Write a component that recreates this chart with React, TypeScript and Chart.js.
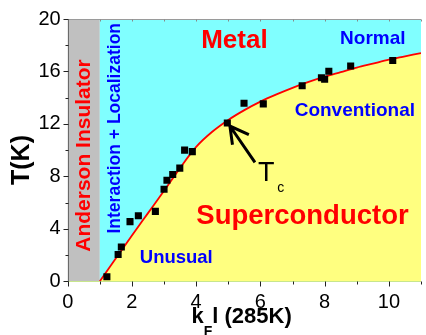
import { useEffect, useRef } from "react";
import { Chart, registerables } from "chart.js";

Chart.register(...registerables);

// measured points (kF l at 285K, Tc in K)
const pointKfl = [1.22, 1.57, 1.67, 1.94, 2.2, 2.73, 3.0, 3.09, 3.27, 3.49, 3.64, 3.88, 4.97, 5.49, 6.09, 7.3, 7.9, 8.0, 8.13, 8.81, 10.12];
const pointTc = [0.35, 2.04, 2.61, 4.55, 5.0, 5.33, 7.02, 7.7, 8.15, 8.63, 10.0, 9.89, 12.07, 13.58, 13.53, 14.91, 15.52, 15.4, 16.02, 16.42, 16.83];

// fitted phase boundary
const fitKfl = [1, 1.5, 2, 2.5, 3, 3.5, 4, 4.5, 5, 5.5, 6, 6.5, 7, 7.5, 8, 8.5, 9, 9.5, 10, 10.5, 11];
const fitTc = [0, 1.75, 3.5, 5.2, 6.9, 8.65, 10.25, 11.4, 12.3, 13.05, 13.7, 14.25, 14.75, 15.2, 15.6, 15.95, 16.3, 16.6, 16.9, 17.15, 17.4];

const xTickValues = [0, 2, 4, 6, 8, 10];
const xMinorTicks = [1, 3, 5, 7, 9, 11];
const yTickValues = [0, 4, 8, 12, 16, 20];
const yMinorTicks = [2, 6, 10, 14, 18];
const topTicks = [1, 2, 3, 4, 5, 6, 7, 8, 9, 10, 11];

const insulatorEdge = 1;

const FONT = 'Arial, "Liberation Sans", sans-serif';

export default function App() {
  const ref = useRef<HTMLCanvasElement>(null);

  useEffect(() => {
    document.body.style.margin = "0";
    const canvas = ref.current;
    if (!canvas) return;

    const bgPlugin = {
      id: "bgRegions",
      beforeDraw(chart: any) {
        const { ctx, chartArea: a, scales } = chart;
        const x1 = scales.x.getPixelForValue(insulatorEdge);
        ctx.save();
        ctx.fillStyle = "#c0c0c0";
        ctx.fillRect(a.left, a.top, x1 - a.left, a.bottom - a.top);
        ctx.fillStyle = "#80ffff";
        ctx.fillRect(x1, a.top, a.right - x1, a.bottom - a.top);
        ctx.restore();
      },
    };

    const overlayPlugin = {
      id: "overlay",
      afterDraw(chart: any) {
        const { ctx, chartArea: a, scales } = chart;
        const px = (v: number) => scales.x.getPixelForValue(v);
        const py = (v: number) => scales.y.getPixelForValue(v);
        ctx.save();

        // axis frame
        const L = Math.round(a.left) + 0.5;
        const T = Math.round(a.top) + 0.5;
        const B = Math.round(a.bottom) + 0.5;
        ctx.lineWidth = 1;
        ctx.strokeStyle = "#c8e68c";
        ctx.beginPath();
        ctx.moveTo(L, B);
        ctx.lineTo(a.right, B);
        ctx.stroke();
        ctx.strokeStyle = "#9a9a9a";
        ctx.beginPath();
        ctx.moveTo(L, T);
        ctx.lineTo(a.right, T);
        ctx.stroke();
        ctx.strokeStyle = "#6a6a6a";
        ctx.beginPath();
        ctx.moveTo(L, T);
        ctx.lineTo(L, B);
        ctx.stroke();

        // ticks
        ctx.strokeStyle = "#222";
        ctx.beginPath();
        yTickValues.forEach((v) => {
          const y = Math.round(py(v)) + 0.5;
          ctx.moveTo(L - 5, y);
          ctx.lineTo(L, y);
        });
        yMinorTicks.forEach((v) => {
          const y = Math.round(py(v)) + 0.5;
          ctx.moveTo(L - 3, y);
          ctx.lineTo(L, y);
        });
        xTickValues.forEach((v) => {
          const x = Math.round(px(v)) + 0.5;
          ctx.moveTo(x, B);
          ctx.lineTo(x, B + 5);
        });
        xMinorTicks.forEach((v) => {
          const x = Math.round(px(v)) + 0.5;
          ctx.moveTo(x, B);
          ctx.lineTo(x, B + 3);
        });
        ctx.stroke();
        ctx.strokeStyle = "#888";
        ctx.beginPath();
        topTicks.forEach((v) => {
          const x = Math.round(px(v)) + 0.5;
          ctx.moveTo(x, T);
          ctx.lineTo(x, T + 2);
        });
        ctx.stroke();

        // region labels
        const label = (text: string, x: number, y: number, size: number, color: string, bold = true) => {
          ctx.font = `${bold ? "bold " : ""}${size}px ${FONT}`;
          ctx.fillStyle = color;
          ctx.textAlign = "center";
          ctx.textBaseline = "alphabetic";
          ctx.fillText(text, px(x), py(y));
        };
        const vlabel = (text: string, x: number, y: number, size: number, color: string) => {
          ctx.save();
          ctx.translate(px(x), py(y));
          ctx.rotate(-Math.PI / 2);
          ctx.font = `bold ${size}px ${FONT}`;
          ctx.fillStyle = color;
          ctx.textAlign = "center";
          ctx.textBaseline = "alphabetic";
          ctx.fillText(text, 0, 0);
          ctx.restore();
        };

        vlabel("Anderson Insulator", 0.684, 9.59, 21, "#ff0000");
        vlabel("Interaction + Localization", 1.635, 11.67, 17.5, "#0000ff");
        label("Metal", 5.19, 17.78, 26, "#ff0000");
        label("Normal", 9.5, 18.1, 19, "#0000ff");
        label("Conventional", 8.94, 12.59, 19, "#0000ff");
        label("Superconductor", 7.31, 4.36, 27.5, "#ff0000");
        label("Unusual", 3.38, 1.4, 18.5, "#0000ff");
        label("T", 6.18, 7.62, 27, "#000", false);
        label("c", 6.63, 6.79, 14, "#000", false);

        // arrow to Tc point
        ctx.strokeStyle = "#000";
        ctx.lineWidth = 3;
        ctx.lineCap = "butt";
        ctx.beginPath();
        ctx.moveTo(px(5.83), py(9.07));
        ctx.lineTo(px(5.05), py(11.84));
        ctx.moveTo(px(5.13), py(10.41));
        ctx.lineTo(px(5.05), py(11.84));
        ctx.lineTo(px(5.64), py(11.18));
        ctx.stroke();

        // axis titles
        ctx.fillStyle = "#000";
        ctx.textBaseline = "alphabetic";
        ctx.textAlign = "left";
        let cx = 191.5;
        const base = 323;
        ctx.font = `bold 22px ${FONT}`;
        ctx.fillText("k", cx, base);
        cx += ctx.measureText("k").width;
        ctx.font = `bold 14px ${FONT}`;
        ctx.fillText("F", cx, base + 13);
        cx += ctx.measureText("F").width;
        ctx.font = `bold 22px ${FONT}`;
        ctx.fillText("l (285K)", cx, base);

        ctx.save();
        ctx.translate(29, 160);
        ctx.rotate(-Math.PI / 2);
        ctx.font = `bold 25px ${FONT}`;
        ctx.textAlign = "center";
        ctx.fillText("T(K)", 0, 0);
        ctx.restore();

        ctx.restore();
      },
    };

    const chart = new Chart(canvas, {
      type: "line",
      data: {
        datasets: [
          {
            label: "Tc data",
            data: pointKfl.map((x, i) => ({ x, y: pointTc[i] })),
            showLine: false,
            pointStyle: "rect",
            pointRadius: 5,
            pointBorderWidth: 0,
            pointBackgroundColor: "#000",
            pointBorderColor: "#000",
          },
          {
            label: "fit",
            data: fitKfl.map((x, i) => ({ x, y: fitTc[i] })),
            borderColor: "#ff0000",
            borderWidth: 1.8,
            pointRadius: 0,
            fill: "origin",
            backgroundColor: "#ffff80",
            cubicInterpolationMode: "monotone",
          },
        ],
      },
      options: {
        responsive: false,
        animation: false,
        devicePixelRatio: 1,
        layout: { padding: { top: 15.5, left: 0, right: 0, bottom: 0 } },
        plugins: { legend: { display: false }, tooltip: { enabled: false } },
        scales: {
          x: {
            type: "linear",
            min: 0,
            max: 11,
            afterBuildTicks: (s: any) => {
              s.ticks = xTickValues.map((v) => ({ value: v }));
            },
            afterFit: (s: any) => {
              s.height = 53.7;
            },
            grid: { display: false, drawTicks: false },
            border: { display: false },
            ticks: { font: { family: FONT, size: 20 }, color: "#000", padding: 9, maxRotation: 0 },
          },
          y: {
            type: "linear",
            min: 0,
            max: 20,
            afterBuildTicks: (s: any) => {
              s.ticks = yTickValues.map((v) => ({ value: v }));
            },
            afterFit: (s: any) => {
              s.width = 67.7;
            },
            grid: { display: false, drawTicks: false },
            border: { display: false },
            ticks: { font: { family: FONT, size: 20 }, color: "#000", padding: 7 },
          },
        },
      },
      plugins: [bgPlugin, overlayPlugin],
    });

    return () => chart.destroy();
  }, []);

  return (
    <div style={{ width: 426, height: 335 }}>
      <canvas ref={ref} width={426} height={335} style={{ display: "block" }} />
    </div>
  );
}
